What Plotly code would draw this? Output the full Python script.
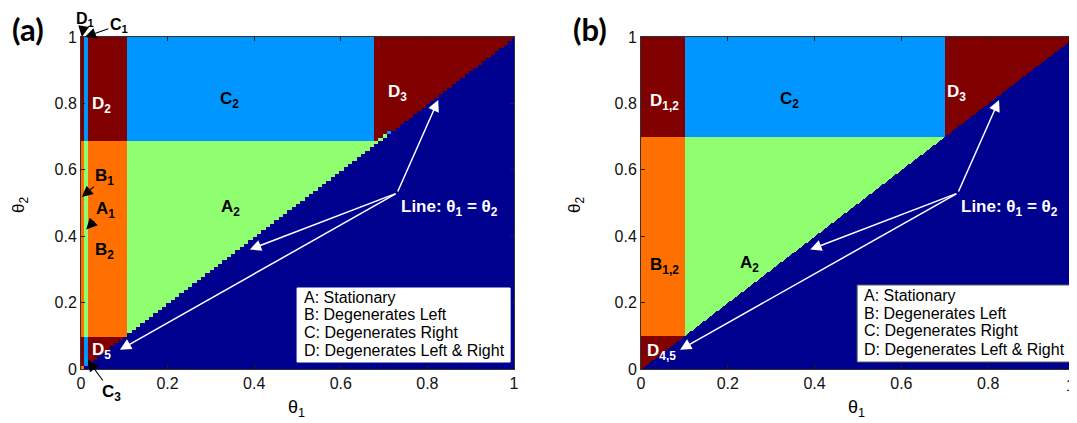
import numpy as np
import plotly.graph_objects as go

# ---------------- data ----------------
# region codes: N = below diagonal (dark blue), A stationary, B deg. left, C deg. right, D both
REGION_COLORS = {"N": "#00008F", "C": "#0096FF", "A": "#8FFF70", "B": "#FF7000", "D": "#800000"}
REGION_ORDER = ["N", "C", "A", "B", "D"]

# panel (a): grid step 0.01, bands by theta2, (upper bound of theta1, region)
a_step = 0.01
a_shift = 0.002     # cell alignment of the coarse grid
a_y_low = 0.09      # highest theta2 of bottom band
a_y_high = 0.69     # lowest theta2 of top band
a_top = [(0.00, "D"), (0.01, "C"), (0.10, "D"), (0.67, "C"), (1.00, "D")]
a_mid = [(0.00, "B"), (0.01, "A"), (0.10, "B"), (1.00, "A")]
a_bot = [(0.00, "D"), (0.01, "C"), (1.00, "D")]
a_special = [(0.00, 0.00, "B"), (0.69, 0.69, "A"), (0.70, 0.70, "A"), (0.71, 0.71, "C")]

# panel (b): fine grid
b_step = 0.0025
b_y_low = 0.1
b_y_high = 0.7
b_top = [(0.1, "D"), (0.7, "C"), (1.0, "D")]
b_mid = [(0.1, "B"), (1.0, "A")]
b_bot = [(1.0, "D")]

ticks = [0, 0.2, 0.4, 0.6, 0.8, 1]
tick_text = ["0", "0.2", "0.4", "0.6", "0.8", "1"]
legend_lines = ["A: Stationary", "B: Degenerates Left", "C: Degenerates Right", "D: Degenerates Left & Right"]


def pick(bands, x):
    for ub, r in bands:
        if x <= ub + 1e-9:
            return r
    return bands[-1][1]


def build(step, y_low, y_high, top, mid, bot, special, low_inclusive):
    n = int(round(1 / step)) + 1
    v = np.round(np.arange(n) * step, 6)
    z = np.zeros((n, n))
    for j, y in enumerate(v):
        for i, x in enumerate(v):
            if y < x - 1e-9:
                r = "N"
            else:
                if y >= y_high - 1e-9:
                    r = pick(top, x)
                elif (y <= y_low + 1e-9) if low_inclusive else (y < y_low - 1e-9):
                    r = pick(bot, x)
                else:
                    r = pick(mid, x)
            z[j, i] = REGION_ORDER.index(r)
    for sx, sy, r in special:
        i = int(round(sx / step)); j = int(round(sy / step))
        z[j, i] = REGION_ORDER.index(r)
    return v, z


ax_v, az = build(a_step, a_y_low, a_y_high, a_top, a_mid, a_bot, a_special, True)
bx_v, bz = build(b_step, b_y_low, b_y_high, b_top, b_mid, b_bot, [], False)

cs = []
k = len(REGION_ORDER)
for idx, r in enumerate(REGION_ORDER):
    cs.append([idx / k, REGION_COLORS[r]])
    cs.append([(idx + 1) / k, REGION_COLORS[r]])

fig = go.Figure()
fig.add_trace(go.Heatmap(x=ax_v + a_shift, y=ax_v + a_shift, z=az, colorscale=cs, zmin=-0.5, zmax=4.5,
                         showscale=False, hoverinfo="skip", xaxis="x", yaxis="y"))
fig.add_trace(go.Heatmap(x=bx_v, y=bx_v, z=bz, colorscale=cs, zmin=-0.5, zmax=4.5,
                         showscale=False, hoverinfo="skip", xaxis="x2", yaxis="y2"))

# page has an 8px body margin: figure is sized to the remaining window
OFF = 8
W, H = 1077 - OFF, 423 - OFF


def fx(px):
    return (px - OFF) / W


def fy(py):
    return 1 - (py - OFF) / H


FONT = "Liberation Sans, Arial, sans-serif"
axis_common = dict(range=[0, 1], tickvals=ticks, ticks="inside", ticklen=4,
                   tickcolor="#222", showline=True, linecolor="#333", linewidth=1, mirror="ticks",
                   showgrid=False, zeroline=False, automargin=False,
                   tickfont=dict(family=FONT, size=16, color="#111"))
yd = [fy(369), fy(37)]
fig.update_layout(
    width=W, height=H, margin=dict(l=0, r=0, t=0, b=0, pad=0), autosize=False,
    paper_bgcolor="white", plot_bgcolor="white", showlegend=False,
    xaxis=dict(domain=[fx(81), fx(514)], anchor="y", ticktext=tick_text, **axis_common),
    yaxis=dict(domain=yd, anchor="x", ticktext=tick_text, **axis_common),
    xaxis2=dict(domain=[fx(641), fx(1075)], anchor="y2", ticktext=tick_text[:-1] + [""], **axis_common),
    yaxis2=dict(domain=yd, anchor="x2", ticktext=tick_text, **axis_common),
)

ann = []
shapes = []


def lab(xr, yr, x, y, text, color="black", size=17):
    ann.append(dict(xref=xr, yref=yr, x=x, y=y, text="<b>" + text + "</b>", showarrow=False,
                    xanchor="center", yanchor="middle",
                    font=dict(family=FONT, size=size, color=color)))


def black_arrow(xr, yr, x, y, text, axp, ayp, size=17):
    ann.append(dict(xref=xr, yref=yr, x=x, y=y, text="<b>" + text + "</b>", showarrow=True,
                    ax=axp, ay=ayp, arrowhead=2, arrowsize=2.0, arrowwidth=1.1, arrowcolor="black",
                    font=dict(family=FONT, size=size, color="black")))


def white_arrows(xr, yr):
    for tx, ty in [(0.39, 0.36), (0.825, 0.81), (0.09, 0.058)]:
        ann.append(dict(xref=xr, yref=yr, axref=xr, ayref=yr, x=tx, y=ty, ax=0.73, ay=0.53,
                        text="", showarrow=True, arrowhead=2, arrowsize=1.5, arrowwidth=1.5,
                        arrowcolor="white"))


# panel (a)
lab("x", "y", 0.048, 0.795, "D<sub>2</sub>", "white")
lab("x", "y", 0.344, 0.81, "C<sub>2</sub>", "black")
lab("x", "y", 0.73, 0.83, "D<sub>3</sub>", "white")
lab("x", "y", 0.055, 0.355, "B<sub>2</sub>", "black")
lab("x", "y", 0.345, 0.485, "A<sub>2</sub>", "black")
lab("x", "y", 0.048, 0.055, "D<sub>5</sub>", "white")
lab("x", "y", 0.85, 0.485, "Line: θ<sub>1</sub> = θ<sub>2</sub>", "white", 17)
black_arrow("x", "y", 0.002, 1.0, "D<sub>1</sub>", 3, -18, 16)
black_arrow("x", "y", 0.009, 1.0, "C<sub>1</sub>", 34, -12, 16)
black_arrow("x", "y", 0.002, 0.518, "B<sub>1</sub>", 23, -20)
black_arrow("x", "y", 0.012, 0.42, "A<sub>1</sub>", 19, -20)
black_arrow("x", "y", -0.002, 0.057, "D<sub>4</sub>", -36, -2)
black_arrow("x", "y", 0.016, 0.027, "C<sub>3</sub>", 24, 33)
white_arrows("x", "y")

# panel (b)
lab("x2", "y2", 0.055, 0.805, "D<sub>1,2</sub>", "white")
lab("x2", "y2", 0.343, 0.81, "C<sub>2</sub>", "black")
lab("x2", "y2", 0.728, 0.83, "D<sub>3</sub>", "white")
lab("x2", "y2", 0.055, 0.31, "B<sub>1,2</sub>", "black")
lab("x2", "y2", 0.25, 0.315, "A<sub>2</sub>", "black")
lab("x2", "y2", 0.048, 0.05, "D<sub>4,5</sub>", "white")
lab("x2", "y2", 0.85, 0.485, "Line: θ<sub>1</sub> = θ<sub>2</sub>", "white", 17)
white_arrows("x2", "y2")

# legend boxes
for xr, yr, x0, x1, y0, y1, tx, ys, border in [
    ("x", "y", 0.499, 0.991, 0.021, 0.244, 0.51, [0.214, 0.163, 0.111, 0.057], "white"),
    ("x2", "y2", 0.498, 0.989, 0.021, 0.253, 0.509, [0.22, 0.166, 0.115, 0.060], "#556655"),
]:
    shapes.append(dict(type="rect", xref=xr, yref=yr, x0=x0, x1=x1, y0=y0, y1=y1,
                       fillcolor="white", line=dict(color=border, width=1)))
    for line, yy in zip(legend_lines, ys):
        ann.append(dict(xref=xr, yref=yr, x=tx, y=yy, text=line, showarrow=False,
                        xanchor="left", yanchor="middle",
                        font=dict(family=FONT, size=16, color="black")))

# last tick label of panel (b), kept inside the page
ann.append(dict(xref="paper", yref="paper", x=1.0, y=fy(385), text=tick_text[-1], showarrow=False,
                xanchor="right", yanchor="middle", font=dict(family=FONT, size=16, color="#111")))

# panel letters and axis titles
for px, t in [(28, "(a)"), (590, "(b)")]:
    ann.append(dict(xref="paper", yref="paper", x=fx(px), y=fy(29), text="<b>" + t + "</b>",
                    showarrow=False, xanchor="center", yanchor="middle",
                    font=dict(family="Lato, Open Sans, sans-serif", size=31, color="black")))
for px in [296, 856]:
    ann.append(dict(xref="paper", yref="paper", x=fx(px), y=fy(408), text="θ<sub>1</sub>",
                    showarrow=False, xanchor="center", yanchor="middle",
                    font=dict(family=FONT, size=18, color="black")))
for px in [20, 576]:
    ann.append(dict(xref="paper", yref="paper", x=fx(px), y=fy(205), text="θ<sub>2</sub>",
                    showarrow=False, textangle=-90, xanchor="center", yanchor="middle",
                    font=dict(family=FONT, size=17, color="black")))

fig.update_layout(annotations=ann, shapes=shapes)
fig.write_html("out.html")
